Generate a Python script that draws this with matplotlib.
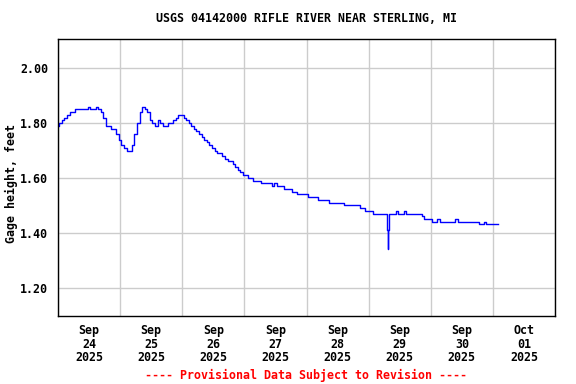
import numpy as np
import pandas as pd
import matplotlib
matplotlib.use('Agg')
import matplotlib.pyplot as plt
import matplotlib.dates as mdates

# USGS 04142000 gage height (hourly, feet)
start = '2025-09-24 00:00'
gage_height = [
    1.79, 1.80, 1.81, 1.82, 1.83, 1.84, 1.84, 1.85, 1.85, 1.85,   # 0-9
    1.85, 1.85, 1.86, 1.85, 1.85, 1.86, 1.85, 1.84, 1.82, 1.79,   # 10-19
    1.79, 1.78, 1.78, 1.76, 1.74, 1.72, 1.71, 1.70, 1.70, 1.72,   # 20-29
    1.76, 1.80, 1.84, 1.86, 1.85, 1.84, 1.81, 1.80, 1.79, 1.81,   # 30-39
    1.80, 1.79, 1.79, 1.80, 1.80, 1.81, 1.82, 1.83, 1.83, 1.82,   # 40-49
    1.81, 1.80, 1.79, 1.78, 1.77, 1.76, 1.75, 1.74, 1.73, 1.72,   # 50-59
    1.71, 1.70, 1.69, 1.69, 1.68, 1.67, 1.66, 1.66, 1.65, 1.64,   # 60-69
    1.63, 1.62, 1.61, 1.61, 1.60, 1.60, 1.59, 1.59, 1.59, 1.58,   # 70-79
    1.58, 1.58, 1.58, 1.57, 1.58, 1.57, 1.57, 1.57, 1.56, 1.56,   # 80-89
    1.56, 1.55, 1.55, 1.54, 1.54, 1.54, 1.54, 1.53, 1.53, 1.53,   # 90-99
    1.53, 1.52, 1.52, 1.52, 1.52, 1.51, 1.51, 1.51, 1.51, 1.51,   # 100-109
    1.51, 1.50, 1.50, 1.50, 1.50, 1.50, 1.50, 1.49, 1.49, 1.48,   # 110-119
    1.48, 1.48, 1.47, 1.47, 1.47, 1.47, 1.47, 1.47, 1.47, 1.47,   # 120-129
    1.47, 1.48, 1.47, 1.47, 1.48, 1.47, 1.47, 1.47, 1.47, 1.47,   # 130-139
    1.47, 1.46, 1.45, 1.45, 1.45, 1.44, 1.44, 1.45, 1.44, 1.44,   # 140-149
    1.44, 1.44, 1.44, 1.44, 1.45, 1.44, 1.44, 1.44, 1.44, 1.44,   # 150-159
    1.44, 1.44, 1.44, 1.43, 1.43, 1.44, 1.43, 1.43, 1.43, 1.43,   # 160-169
    1.43,                                                         # 170
]
# short dip near Sep 29 07:30
spike_hours = [127.25, 127.5, 127.75]
spike_values = [1.41, 1.34, 1.41]

hours = list(np.arange(len(gage_height), dtype=float)) + spike_hours
values = gage_height + spike_values
df = pd.DataFrame({'h': hours, 'v': values}).sort_values('h')
df['t'] = pd.Timestamp(start) + pd.to_timedelta(df['h'], unit='h')

title = 'USGS 04142000 RIFLE RIVER NEAR STERLING, MI'
ylabel = 'Gage height, feet'
footer = '---- Provisional Data Subject to Revision ----'

plt.rcParams['font.family'] = 'DejaVu Sans Mono'
plt.rcParams['font.weight'] = 'bold'
fs = 8.4

fig = plt.figure(figsize=(5.76, 3.84), dpi=100)
ax = fig.add_axes([58/576, 1-316/384, (555-58)/576, (316-39)/384])

ax.plot(df['t'], df['v'], color='#0000ff', lw=1.0, drawstyle='steps-mid')

ax.set_xlim(pd.Timestamp('2025-09-24'), pd.Timestamp('2025-10-02'))
ax.set_ylim(1.096, 2.107)

# grid at midnight, labels at noon
ax.xaxis.set_major_locator(mdates.DayLocator())
ax.xaxis.set_major_formatter(plt.NullFormatter())
ax.xaxis.set_minor_locator(mdates.HourLocator(byhour=[12]))
ax.xaxis.set_minor_formatter(mdates.DateFormatter('%b\n%d\n%Y'))
ax.set_yticks([1.2, 1.4, 1.6, 1.8, 2.0])
ax.yaxis.set_major_formatter(plt.FormatStrFormatter('%.2f'))

ax.tick_params(which='both', length=0, labelsize=fs)
ax.tick_params(axis='x', which='minor', pad=6)
ax.tick_params(axis='y', pad=7)
for lab in ax.get_xticklabels(minor=True) + ax.get_yticklabels():
    lab.set_fontweight('bold')
for lab in ax.get_xticklabels(minor=True):
    lab.set_linespacing(1.05)

ax.grid(True, which='major', color='#cccccc', lw=1.0)
ax.set_axisbelow(True)
for s in ax.spines.values():
    s.set_linewidth(1.0)

ax.set_ylabel(ylabel, fontsize=fs, fontweight='bold')
ax.yaxis.set_label_coords(-0.080, 0.48)
fig.text(306/576, 1-19/384, title, ha='center', va='center', fontsize=fs, fontweight='bold')
fig.text(306/576, 1-375/384, footer, ha='center', va='center', fontsize=fs, fontweight='bold', color='red')

fig.savefig('out.png', dpi=100)
